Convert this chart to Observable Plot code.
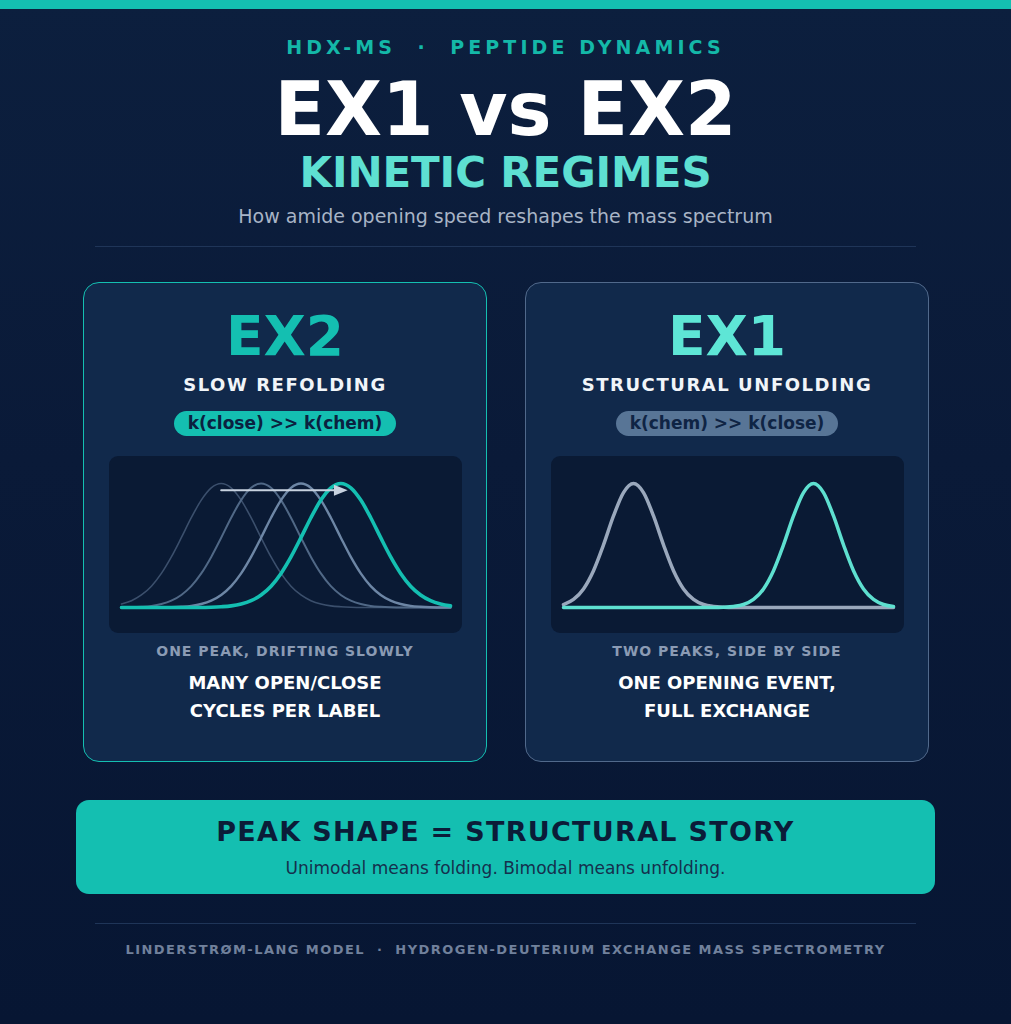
<!DOCTYPE html>
<html>
<head>
<meta charset="utf-8">
<script src="https://cdn.jsdelivr.net/npm/d3@7"></script>
<script src="https://cdn.jsdelivr.net/npm/@observablehq/plot@0.6"></script>
<style>
  html, body { margin: 0; padding: 0; background: #081733; overflow: hidden; }
  #page {
    position: relative; width: 1011px; height: 1024px; overflow: hidden;
    background: linear-gradient(180deg, #0c1f3e 0%, #0a1a38 45%, #071633 100%);
    font-family: "DejaVu Sans", sans-serif;
  }
  .t { position: absolute; left: 0; width: 100%; text-align: center; white-space: nowrap; }
  .bar { position: absolute; left: 0; top: 0; width: 1011px; height: 9px; background: #14bfb1; }
  .rule { position: absolute; height: 1px; background: #1f3558; }
  .panel { position: absolute; top: 282px; width: 404px; height: 480px; box-sizing: border-box;
           border-radius: 16px; background: #11294b; }
  .chartbox { position: absolute; left: 25px; top: 173px; width: 353px; height: 177px;
              border-radius: 9px; background: #0a1a34; overflow: hidden; }
  .pill { display: inline-block; height: 25px; line-height: 25px; padding: 0 14px;
          border-radius: 13px; font-weight: bold; font-size: 17px; }
  .banner { position: absolute; left: 76px; top: 800px; width: 859px; height: 94px;
            border-radius: 13px; background: #14bfb1; }
</style>
</head>
<body>
<div id="page">
  <div class="bar"></div>
  <div class="t" style="top:35px;line-height:24px;font-size:19px;font-weight:bold;letter-spacing:4.1px;color:#14b8a8;">HDX-MS&nbsp;&nbsp;·&nbsp;&nbsp;PEPTIDE DYNAMICS</div>
  <div class="t" style="top:64px;line-height:90px;font-size:74px;font-weight:bold;color:#ffffff;">EX1 vs EX2</div>
  <div class="t" style="top:148px;line-height:50px;font-size:42px;font-weight:bold;letter-spacing:-0.1px;color:#5ee0d2;">KINETIC REGIMES</div>
  <div class="t" style="top:204px;line-height:24px;font-size:19px;color:#a8b4c6;">How amide opening speed reshapes the mass spectrum</div>
  <div class="rule" style="left:95px;width:821px;top:246px;"></div>

  <div class="panel" id="leftPanel" style="left:83px;border:1.5px solid #14bfb1;">
    <div class="t" style="top:18px;line-height:70px;font-size:55px;font-weight:bold;color:#14bfb1;">EX2</div>
    <div class="t" style="top:90px;line-height:24px;font-size:18px;font-weight:bold;letter-spacing:1.55px;color:#f1f5f9;">SLOW REFOLDING</div>
    <div class="t" style="top:128px;"><span class="pill" style="background:#14bfb1;color:#0b2140;">k(close) &gt;&gt; k(chem)</span></div>
    <div class="chartbox" id="chartEX2"></div>
    <div class="t" style="top:357px;line-height:22px;font-size:14px;font-weight:bold;letter-spacing:1px;color:#8b9bb4;">ONE PEAK, DRIFTING SLOWLY</div>
    <div class="t" style="top:386px;line-height:28px;font-size:18px;font-weight:bold;color:#ffffff;">MANY OPEN/CLOSE<br>CYCLES PER LABEL</div>
  </div>

  <div class="panel" id="rightPanel" style="left:525px;border:1.5px solid #51698b;">
    <div class="t" style="top:18px;line-height:70px;font-size:55px;font-weight:bold;color:#5ee6d6;">EX1</div>
    <div class="t" style="top:90px;line-height:24px;font-size:18px;font-weight:bold;letter-spacing:1.55px;color:#f1f5f9;">STRUCTURAL UNFOLDING</div>
    <div class="t" style="top:128px;"><span class="pill" style="background:#587596;color:#0f2444;">k(chem) &gt;&gt; k(close)</span></div>
    <div class="chartbox" id="chartEX1"></div>
    <div class="t" style="top:357px;line-height:22px;font-size:14px;font-weight:bold;letter-spacing:1px;color:#8b9bb4;">TWO PEAKS, SIDE BY SIDE</div>
    <div class="t" style="top:386px;line-height:28px;font-size:18px;font-weight:bold;color:#ffffff;">ONE OPENING EVENT,<br>FULL EXCHANGE</div>
  </div>

  <div class="banner">
    <div class="t" style="top:15px;line-height:34px;font-size:27px;font-weight:bold;letter-spacing:1.3px;color:#0b1c38;">PEAK SHAPE = STRUCTURAL STORY</div>
    <div class="t" style="top:56px;line-height:24px;font-size:17px;color:#15304d;">Unimodal means folding. Bimodal means unfolding.</div>
  </div>

  <div class="rule" style="left:95px;width:821px;top:923px;"></div>
  <div class="t" style="top:940px;line-height:20px;font-size:13px;font-weight:bold;letter-spacing:1.45px;color:#71819c;">LINDERSTRØM-LANG MODEL&nbsp;&nbsp;·&nbsp;&nbsp;HYDROGEN-DEUTERIUM EXCHANGE MASS SPECTROMETRY</div>
</div>

<script>
// ---- Data (relative intensity vs. mass channel) ----
const massAxis = [0,3,6,9,12,15,18,21,24,27,30,33,36,39,42,45,48,51,54,57,60,63,66,69,72,75,78,81,84,87,90,93,96,99];

// EX2: one envelope drifting to higher mass over time (four snapshots)
const ex2Series = ["t1", "t2", "t3", "t4"];
const ex2_t1 = [0.028,0.055,0.101,0.172,0.275,0.408,0.563,0.724,0.866,0.965,1,0.965,0.866,0.724,0.563,0.408,0.275,0.172,0.101,0.055,0.028,0.013,0.006,0.002,0,0,0,0,0,0,0,0,0,0];
const ex2_t2 = [0,0.002,0.006,0.013,0.028,0.055,0.101,0.172,0.275,0.408,0.563,0.724,0.866,0.965,1,0.965,0.866,0.724,0.563,0.408,0.275,0.172,0.101,0.055,0.028,0.013,0.006,0.002,0,0,0,0,0,0];
const ex2_t3 = [0,0,0,0,0,0.002,0.006,0.013,0.028,0.055,0.101,0.172,0.275,0.408,0.563,0.724,0.866,0.965,1,0.965,0.866,0.724,0.563,0.408,0.275,0.172,0.101,0.055,0.028,0.013,0.006,0.002,0,0];
const ex2_t4 = [0,0,0,0,0,0,0,0,0,0.002,0.006,0.013,0.028,0.055,0.101,0.172,0.275,0.408,0.563,0.724,0.866,0.965,1,0.965,0.866,0.724,0.563,0.408,0.275,0.172,0.101,0.055,0.028,0.013];
const ex2Colors = ["#3b4f6c", "#506886", "#6d86a5", "#14bfb1"];
const ex2Widths = [1.6, 2, 2.4, 3.6];

// drift arrow (mass channel start / head, intensity level)
const driftStart = 30;
const driftHead = 66;
const driftLevel = 0.945;

// EX1: two separate envelopes (unexchanged and fully exchanged)
const ex1Series = ["closed", "opened"];
const ex1_closed = [0.024,0.065,0.150,0.297,0.505,0.738,0.927,1,0.927,0.738,0.505,0.297,0.150,0.065,0.024,0.008,0.002,0,0,0,0,0,0,0,0,0,0,0,0,0,0,0,0,0];
const ex1_opened = [0,0,0,0,0,0,0,0,0,0,0,0,0,0,0,0,0.002,0.008,0.024,0.065,0.150,0.297,0.505,0.738,0.927,1,0.927,0.738,0.505,0.297,0.150,0.065,0.024,0.008];
const ex1Colors = ["#9aa8bc", "#5ee0d0"];
const ex1Widths = [3.5, 3.5];

// ---- Build tables ----
function table(name, values) {
  return massAxis.map((m, i) => ({series: name, mz: m, y: values[i]}));
}
const ex2Data = [ex2_t1, ex2_t2, ex2_t3, ex2_t4].map((v, i) => table(ex2Series[i], v));
const ex1Data = [ex1_closed, ex1_opened].map((v, i) => table(ex1Series[i], v));

const rightTriangle = {
  draw(context, size) {
    const h = Math.sqrt(size) * 1.25;   // length
    const w = h * 0.8;                  // height
    context.moveTo(h * 0.5, 0);
    context.lineTo(-h * 0.5, -w / 2);
    context.lineTo(-h * 0.5, w / 2);
    context.closePath();
  }
};

const common = {
  width: 353, height: 177,
  marginLeft: 12, marginRight: 12, marginTop: 27, marginBottom: 26,
  x: {domain: [0, 99], axis: null},
  y: {domain: [0, 1], axis: null},
  style: {background: "transparent", overflow: "visible"}
};

const ex2Plot = Plot.plot({
  ...common,
  marks: [
    ...ex2Data.map((d, i) => Plot.line(d, {x: "mz", y: "y", stroke: ex2Colors[i], strokeWidth: ex2Widths[i], curve: "monotone-x"})),
    Plot.line([{x: driftStart, y: driftLevel}, {x: driftHead, y: driftLevel}], {x: "x", y: "y", stroke: "#c8d2df", strokeWidth: 2}),
    Plot.dot([{x: driftHead, y: driftLevel}], {x: "x", y: "y", symbol: rightTriangle, r: 6.2, fill: "#c8d2df", stroke: "none"})
  ]
});
document.getElementById("chartEX2").append(ex2Plot);

const ex1Plot = Plot.plot({
  ...common,
  marginRight: 11,
  marks: ex1Data.map((d, i) => Plot.line(d, {x: "mz", y: "y", stroke: ex1Colors[i], strokeWidth: ex1Widths[i], curve: "monotone-x"}))
});
document.getElementById("chartEX1").append(ex1Plot);
</script>
</body>
</html>
